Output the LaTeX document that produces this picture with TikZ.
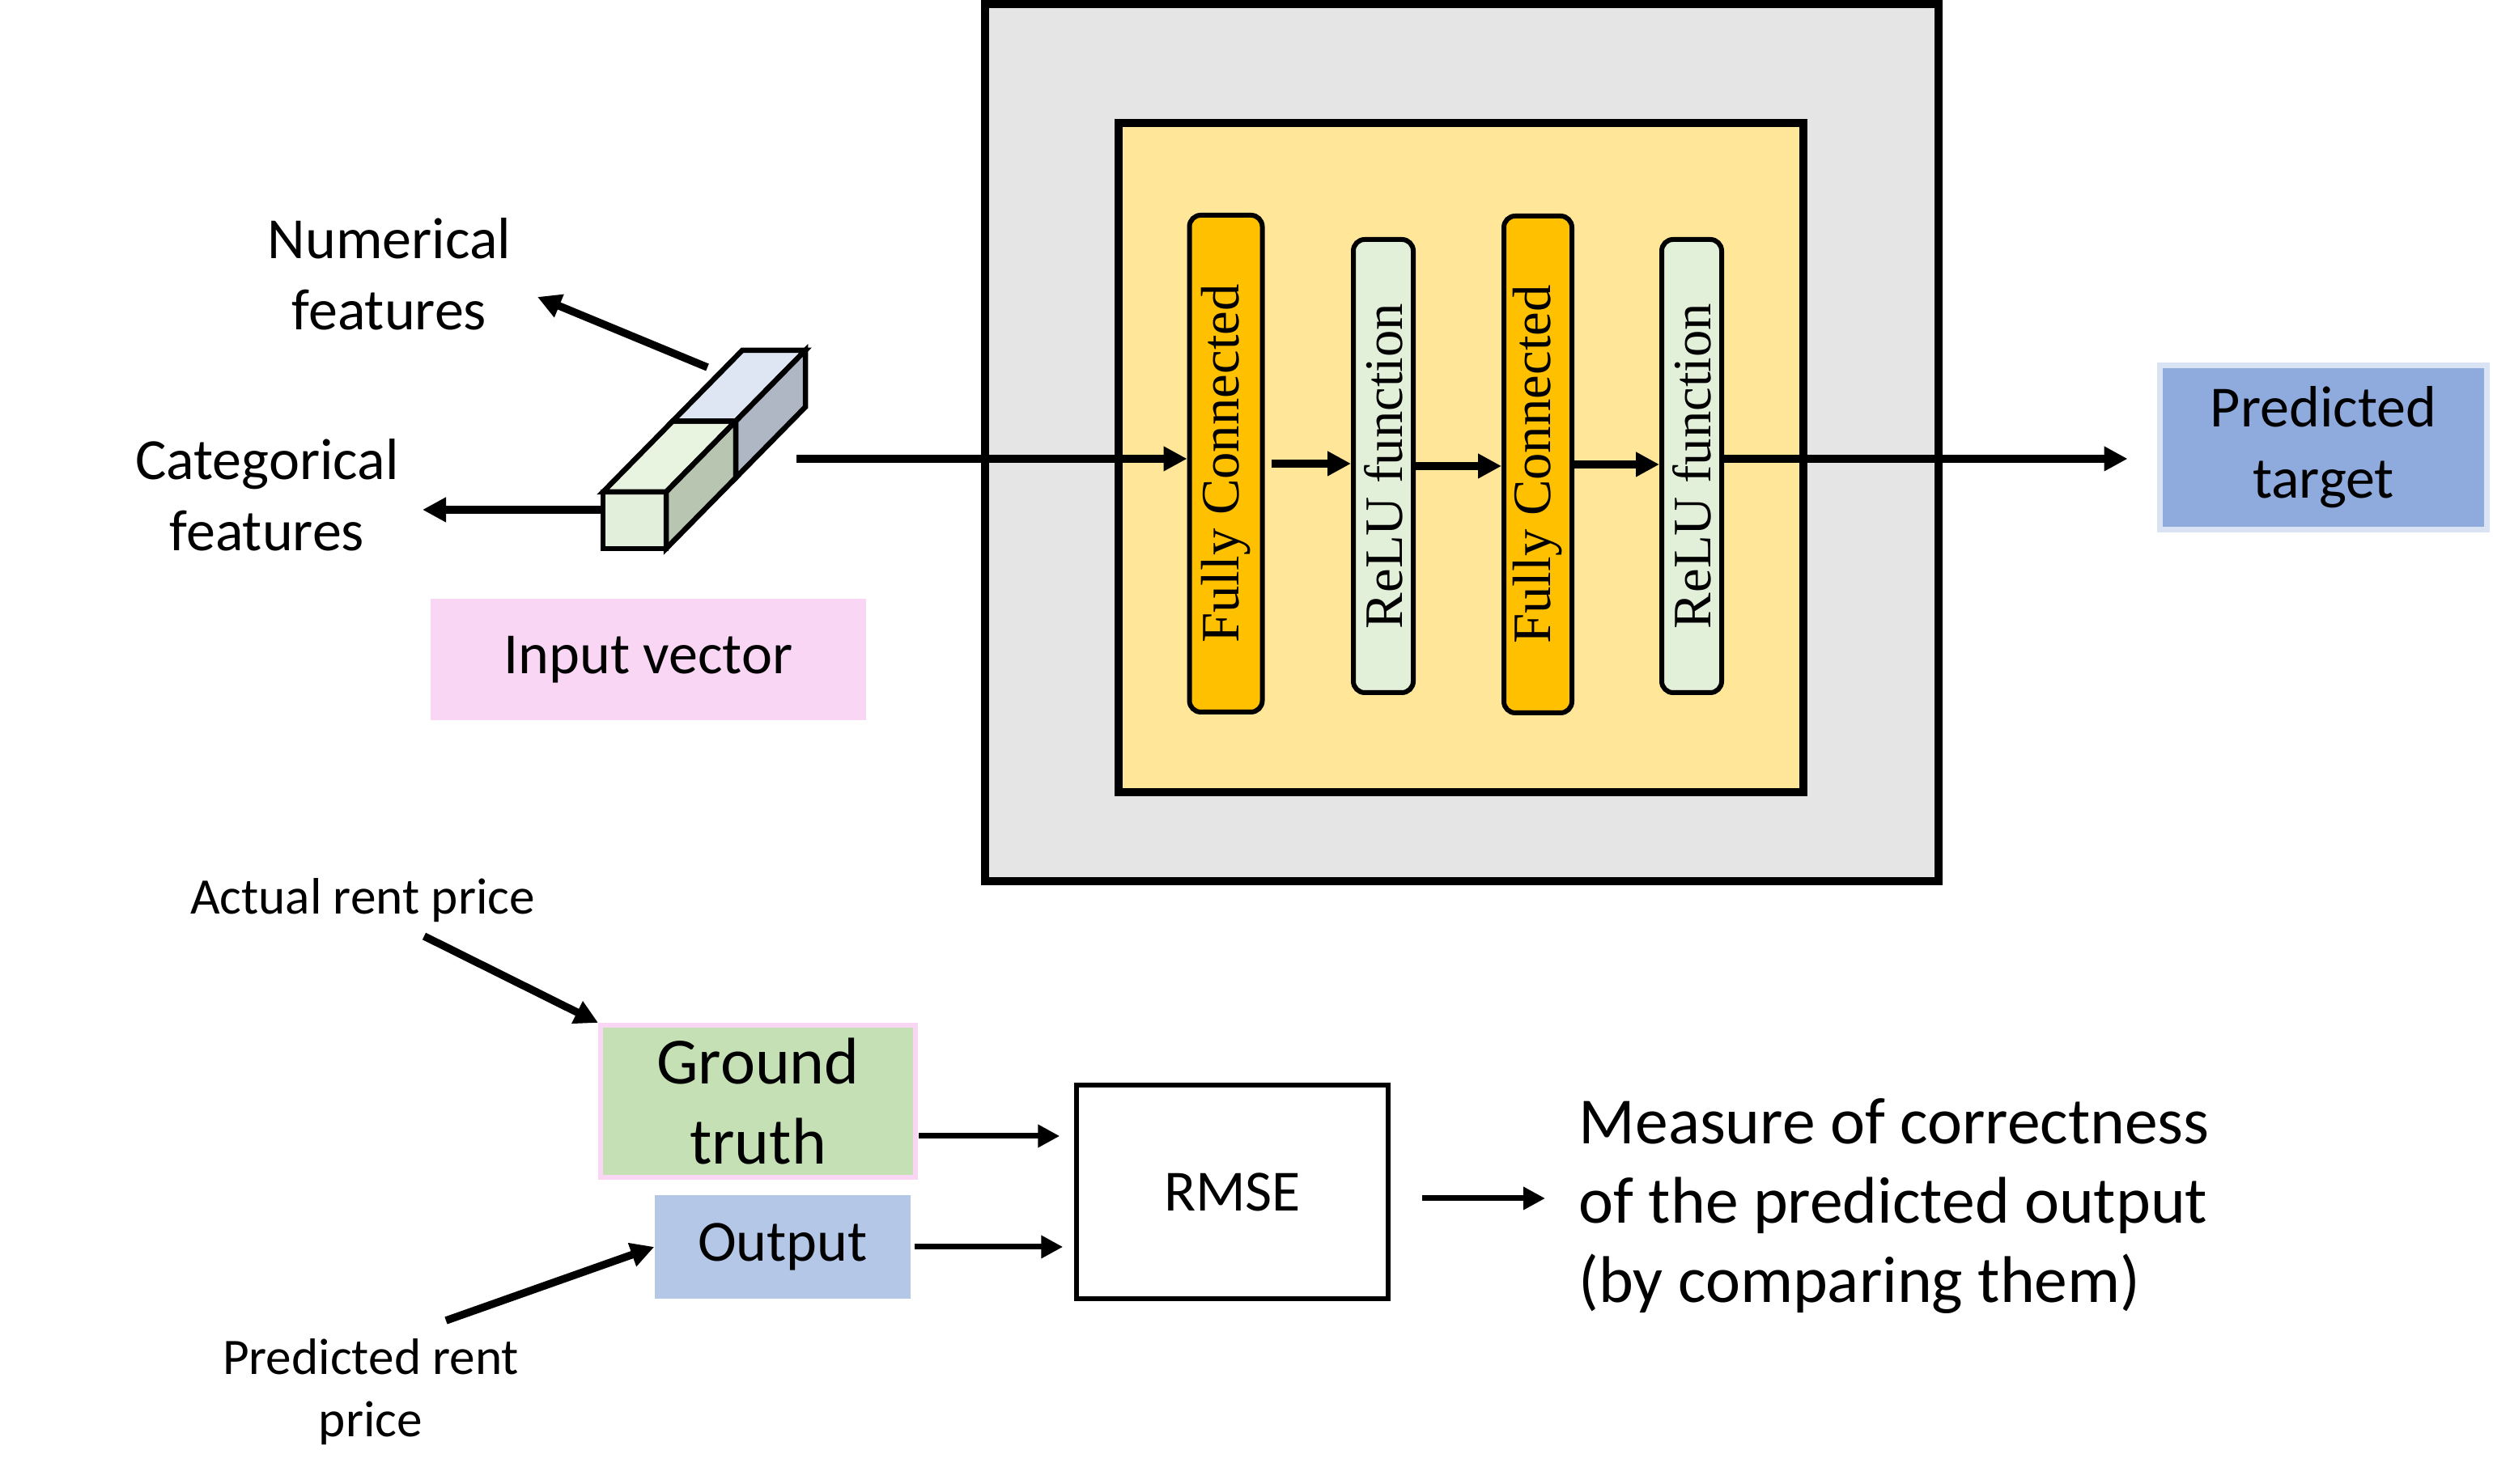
\documentclass[tikz,border=0pt]{standalone}
\usepackage{fontspec}
\setmainfont{Carlito}
\newfontfamily\layerfont{Liberation Serif}
\usetikzlibrary{arrows.meta}

\definecolor{framegray}{HTML}{E5E5E5}
\definecolor{blockyellow}{HTML}{FFE699}
\definecolor{fcorange}{HTML}{FFC000}
\definecolor{relugreen}{HTML}{E2F0D9}
\definecolor{targetblue}{HTML}{8FAADC}
\definecolor{targetedge}{HTML}{DAE3F3}
\definecolor{inputpink}{HTML}{F9D6F4}
\definecolor{truthgreen}{HTML}{C5E0B4}
\definecolor{outblue}{HTML}{B4C7E7}
\definecolor{cubegreen}{HTML}{E2EFDA}
\definecolor{cubegreentop}{HTML}{E8F3E0}
\definecolor{cubegreenside}{HTML}{B8C5B0}
\definecolor{cubebluetop}{HTML}{DFE6F3}
\definecolor{cubeblueside}{HTML}{AFB6C4}

\begin{document}
\begin{tikzpicture}[
    arr/.style={line width=0.095cm, -{Triangle[length=0.29cm, width=0.29cm]}},
    thinarr/.style={line width=0.07cm, -{Triangle[length=0.27cm, width=0.27cm]}},
    lbl/.style={font=\fontsize{20.5}{25}\selectfont, align=center, inner sep=0pt},
    notelbl/.style={font=\fontsize{18}{21.9}\selectfont, align=center, inner sep=0pt},
    bigtxt/.style={font=\fontsize{23.2}{27.9}\selectfont, inner sep=0pt},
    fcbox/.style={draw, line width=0.06cm, rounded corners=0.14cm, fill=fcorange,
        minimum height=6.14cm, inner sep=0pt, font=\layerfont\fontsize{19}{22}\selectfont},
    relubox/.style={fcbox, fill=relugreen, minimum width=0.74cm, minimum height=5.60cm},
    cubeface/.style={draw, line width=0.065cm, line join=miter, miter limit=3}
]
    \useasboundingbox (0,0) rectangle (30.8,18.34);

    % Network frame
    \node[draw, line width=0.10cm, fill=framegray, minimum width=11.78cm, minimum height=10.84cm] (frame) at (18.06,12.87) {};
    \node[draw, line width=0.10cm, fill=blockyellow, minimum width=8.46cm, minimum height=8.27cm] (block) at (18.05,12.685) {};

    % Layers
    \node[fcbox, minimum width=0.90cm] (fc1) at (15.145,12.61) {\rotatebox{90}{Fully Connected}};
    \node[relubox] (relu1) at (17.09,12.58) {\rotatebox{90}{ReLU function}};
    \node[fcbox, minimum width=0.84cm] (fc2) at (19.00,12.60) {\rotatebox{90}{Fully Connected}};
    \node[relubox] (relu2) at (20.90,12.58) {\rotatebox{90}{ReLU function}};

    % Input vector (cube)
    \filldraw[cubeface, fill=cubegreen] (7.45,11.56) rectangle (8.23,12.26);
    \filldraw[cubeface, fill=cubegreentop] (7.45,12.26) -- (8.23,12.26) -- (9.09,13.135) -- (8.31,13.135) -- cycle;
    \filldraw[cubeface, fill=cubegreenside] (8.23,11.56) -- (8.23,12.26) -- (9.09,13.135) -- (9.09,12.435) -- cycle;
    \filldraw[cubeface, fill=cubebluetop] (8.31,13.135) -- (9.09,13.135) -- (9.95,14.01) -- (9.17,14.01) -- cycle;
    \filldraw[cubeface, fill=cubeblueside] (9.09,12.435) -- (9.09,13.135) -- (9.95,14.01) -- (9.95,13.31) -- cycle;

    \node[fill=inputpink, minimum width=5.38cm, minimum height=1.50cm, lbl] (invec) at (8.01,10.19) {Input vector};
    \node[lbl] (numfeat) at (4.81,14.95) {Numerical\\features};
    \node[lbl] (catfeat) at (3.30,12.22) {Categorical\\features};

    \coordinate (numout) at (8.74,13.80);
    \coordinate (numtip) at (6.64,14.67);
    \coordinate (catout) at (7.42,12.04);
    \coordinate (cattip) at (5.22,12.04);
    \draw[arr] (numout) -- (numtip);
    \draw[arr] (catout) -- (cattip);

    % Output
    \node[draw=targetedge, line width=0.07cm, fill=targetblue, minimum width=4.04cm, minimum height=2.03cm, lbl] (target) at (28.705,12.81) {Predicted\\target};

    % Forward pass
    \coordinate (vecout) at (9.84,12.67);
    \draw[arr] (vecout) -- (vecout -| fc1.west);
    \draw[arr, shorten <=0.08cm] (fc1.east) -- (fc1.east -| relu1.west);
    \draw[arr] (relu1.east) -- (relu1.east -| fc2.west);
    \draw[arr] (fc2.east) -- (fc2.east -| relu2.west);
    \draw[arr, shorten >=0.365cm] (relu2.east |- vecout) -- (target.west |- vecout);

    % Loss
    \node[notelbl] (actual) at (4.48,7.21) {Actual rent price};
    \node[notelbl] (predicted) at (4.58,1.14) {Predicted rent\\price};
    \node[draw=inputpink, line width=0.06cm, fill=truthgreen, minimum width=3.89cm, minimum height=1.88cm, bigtxt, align=center] (truth) at (9.365,4.73) {Ground\\truth};
    \node[fill=outblue, minimum width=3.16cm, minimum height=1.28cm, lbl] (output) at (9.67,2.93) {Output};
    \node[draw, line width=0.055cm, minimum width=3.85cm, minimum height=2.64cm, lbl] (rmse) at (15.225,3.61) {RMSE};
    \node[bigtxt, anchor=west, align=left] (measure) at (19.50,3.43) {Measure of correctness\\of the predicted output\\(by comparing them)};

    \coordinate (actout) at (5.24,6.77);
    \coordinate (predout) at (5.51,2.02);
    \draw[arr] (actout) -- (truth.north west);
    \draw[arr] (predout) -- (output.west);

    \coordinate (truthout) at (11.35,4.30);
    \draw[thinarr, shorten >=0.18cm] (truthout) -- (truthout -| rmse.west);
    \draw[thinarr, shorten <=0.04cm, shorten >=0.14cm] (output.east) -- (output.east -| rmse.west);
    \draw[thinarr, shorten <=0.39cm, shorten >=0.41cm] ([yshift=0.10cm]measure.west -| rmse.east) -- ([yshift=0.10cm]measure.west);
\end{tikzpicture}
\end{document}
